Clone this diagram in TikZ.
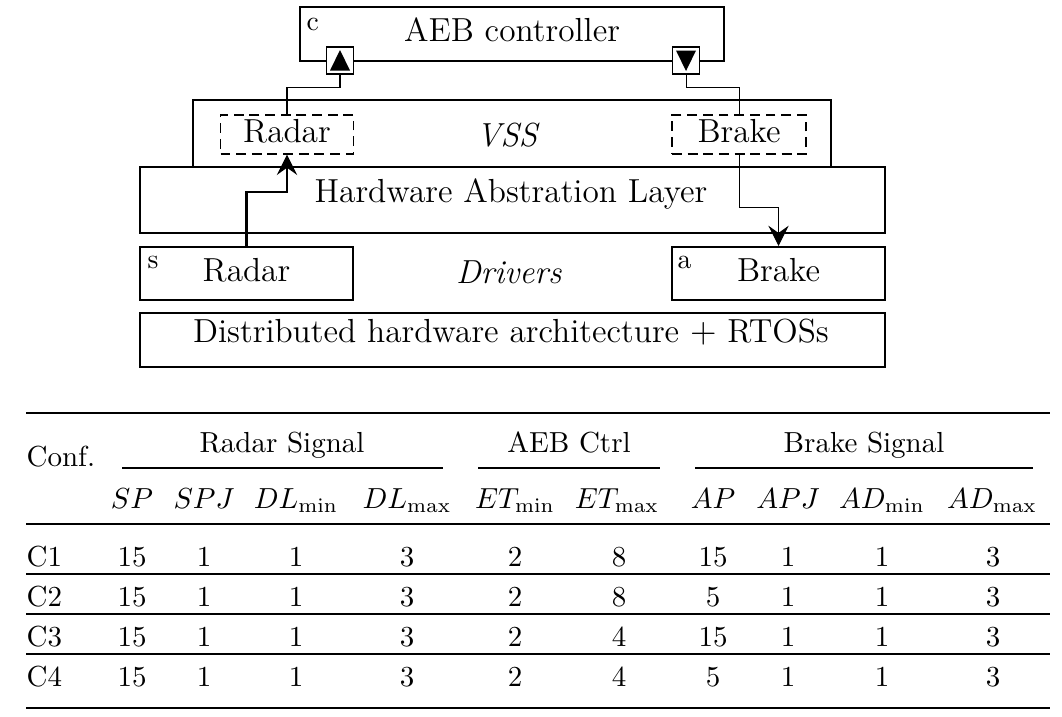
\documentclass[tikz,border=0pt]{standalone}
\usetikzlibrary{arrows.meta}
\newcommand{\pu}{0.3448pt}
\begin{document}
\begin{tikzpicture}
  [x=\pu, y=-\pu,
   Box/.style 2 args={draw, line width=0.7pt, minimum width=#1*\pu, minimum height=#2*\pu,
     inner sep=0pt, text height=1.5ex, text depth=.25ex, font=\fontsize{11.5}{13.5}\selectfont},
   Soft/.style 2 args={Box={#1}{#2}, line width=0.45pt, dash pattern=on 3.4pt off 2pt},
   Port/.style={draw, fill=white, line width=0.5pt, minimum width=27*\pu, minimum height=27*\pu, inner sep=0pt},
   Tag/.style={anchor=base west, inner sep=0pt, font=\fontsize{9.5}{11}\selectfont},
   Name/.style={anchor=base, inner sep=0pt, font=\fontsize{11.5}{13.5}\selectfont},
   Cell/.style={anchor=base, inner sep=0pt, font=\fontsize{10}{12}\selectfont},
   Wire/.style={line width=0.35pt},
   Flow/.style={line width=0.7pt},
   Tip/.style={-{Stealth[length=7pt,width=7pt,inset=2.5pt]}}]
  \useasboundingbox (0,0) rectangle (1062,716);
  % controller
  \node[Box={424}{54}] (aeb) at (512,34) {AEB controller};
  \node[Tag] (clab) at (306,30) {c};
  \node[Port] (pin) at (340,60.5) {};
  \node[Port] (pout) at (686,60.5) {};
  \fill[shift={(pin.center)}] (-10,10) -- (10,10) -- (0,-10.5) -- cycle;
  \fill[shift={(pout.center)}] (-10,-10) -- (10,-10) -- (0,10.5) -- cycle;
  % VSS layer
  \node[Box={638}{72}] (vss) at (512,136) {};
  \node[Name] (vsstext) at (508,146) {\textit{VSS}};
  \node[Soft={133}{39}] (vradar) at (287,134.5) {Radar};
  \node[Soft={134}{39}] (vbrake) at (739,134.5) {Brake};
  % HAL
  \node[Box={745}{66}, fill=white] (hal) at (512.5,200) {};
  \node[Name] (haltext) at (511,202) {Hardware Abstration Layer};
  % drivers
  \node[Box={213}{53}] (dradar) at (246.5,273.5) {Radar};
  \node[Tag] (slab) at (147,268) {s};
  \node[Name] (drvtext) at (509,283) {\textit{Drivers}};
  \node[Box={213}{53}] (dbrake) at (778.5,273.5) {Brake};
  \node[Tag] (alab) at (677,268) {a};
  % hardware
  \node[Box={745}{54}] (hw) at (512.5,340) {};
  \node[Name] (hwtext) at (511,342) {Distributed hardware architecture $+$ RTOSs};
  % signals
  \draw[Wire] (pin.south) -- ++(0,13) -| (vradar.north);
  \draw[Wire] (pout.south) -- ++(0,13) -| (vbrake.north);
  \draw[Flow,Tip] (dradar.north) -- ++(0,-54) -| (vradar.south);
  \draw[Wire,Tip] (vbrake.south) -- ++(0,53) -| (dbrake.north);
  % table
  \draw[line width=1pt] (26,413) -- (1050,413);
  \node[Cell, anchor=base west] (conf) at (26,466) {Conf.};
  \node[Cell] (hradar) at (282,452) {Radar Signal};
  \node[Cell] (hctrl) at (569,452) {AEB Ctrl};
  \node[Cell] (hbrake) at (864,452) {Brake Signal};
  \draw[line width=0.5pt] (122,468) -- (443,468);
  \draw[line width=0.5pt] (478,468) -- (660,468);
  \draw[line width=0.5pt] (695,468) -- (1033,468);
  \node[Cell] (sp) at (132,508) {$SP$};
  \node[Cell] (spj) at (204,508) {$SPJ$};
  \node[Cell] (dlmin) at (296,508) {$DL_{\min}$};
  \node[Cell] (dlmax) at (407,508) {$DL_{\max}$};
  \node[Cell] (etmin) at (515,508) {$ET_{\min}$};
  \node[Cell] (etmax) at (617,508) {$ET_{\max}$};
  \node[Cell] (ap) at (713,508) {$AP$};
  \node[Cell] (apj) at (788,508) {$APJ$};
  \node[Cell] (admin) at (882,508) {$AD_{\min}$};
  \node[Cell] (admax) at (992,508) {$AD_{\max}$};
  \draw[line width=0.6pt] (26,524) -- (1050,524);
  \foreach \y/\et/\ap [count=\i] in {566/8/15, 606/8/5, 646/4/15, 686/4/5}{
    \node[Cell, anchor=base west] (c\i) at (26,\y) {C\i};
    \foreach \x/\v [count=\j] in {132/15, 204/1, 296/1, 407/3, 515/2, 619/\et, 713/\ap, 788/1, 882/1, 993/3}
      \node[Cell] (v\i-\j) at (\x,\y) {\v};
  }
  \draw[line width=0.5pt] (26,574) -- (1050,574);
  \draw[line width=0.5pt] (26,614) -- (1050,614);
  \draw[line width=0.5pt] (26,654) -- (1050,654);
  \draw[line width=1pt] (26,708) -- (1050,708);
\end{tikzpicture}
\end{document}
